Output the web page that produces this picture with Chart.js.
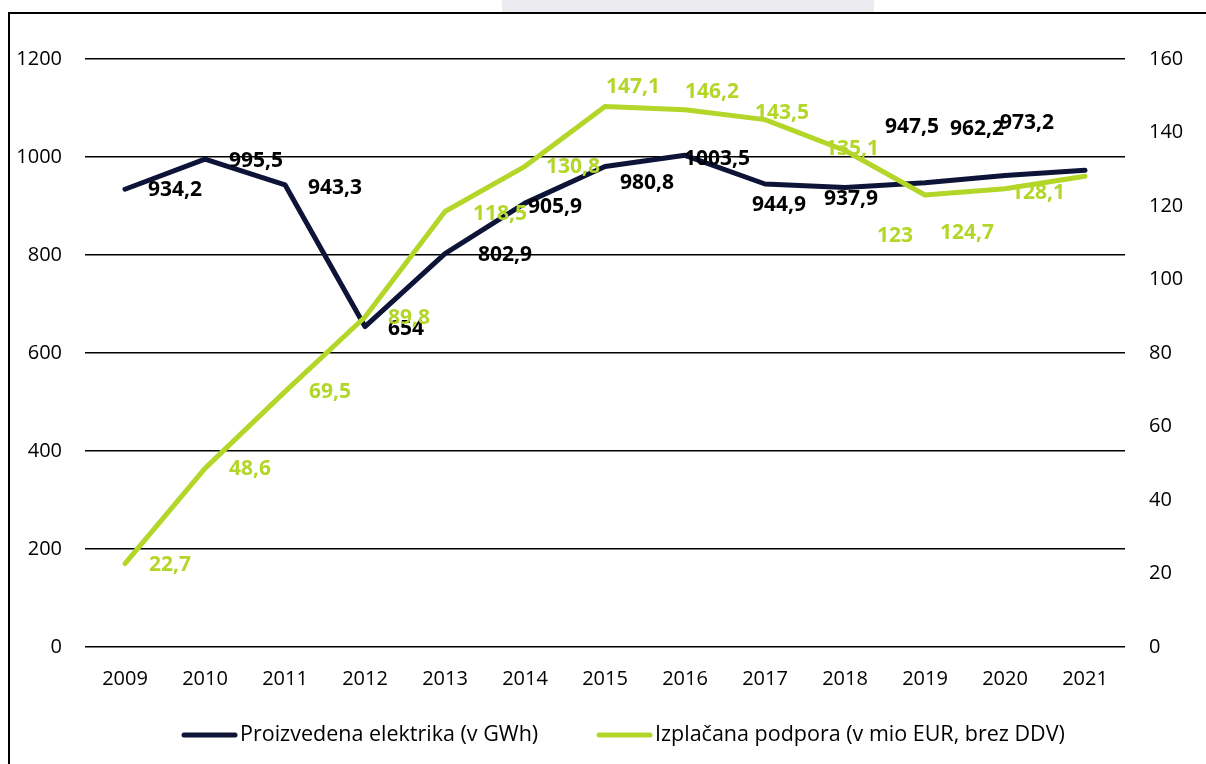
<!DOCTYPE html>
<html>
<head>
<meta charset="utf-8">
<script src="https://cdn.jsdelivr.net/npm/chart.js@4/dist/chart.umd.min.js"></script>
<style>
  html, body { margin: 0; padding: 0; background: #fff; }
  #wrap { position: relative; width: 1206px; height: 764px; overflow: hidden; }
  #tab { position: absolute; left: 502px; top: 0; width: 372px; height: 12px; background: #ebebf0; }
  #frame { position: absolute; left: 8px; top: 12px; width: 1220px; height: 800px;
           border-left: 2px solid #000; border-top: 2px solid #000; box-sizing: border-box; }
  canvas { position: absolute; left: 0; top: 0; }
</style>
</head>
<body>
<div id="wrap">
  <div id="tab"></div>
  <div id="frame"></div>
  <canvas id="c" width="1206" height="764"></canvas>
</div>
<script>
// ---- data ----
const years = ['2009','2010','2011','2012','2013','2014','2015','2016','2017','2018','2019','2020','2021'];
const electricity = [934.2, 995.5, 943.3, 654, 802.9, 905.9, 980.8, 1003.5, 944.9, 937.9, 947.5, 962.2, 973.2];
const support = [22.7, 48.6, 69.5, 89.8, 118.5, 130.8, 147.1, 146.2, 143.5, 135.1, 123, 124.7, 128.1];
const seriesNames = ['Proizvedena elektrika (v GWh)', 'Izplačana podpora (v mio EUR, brez DDV)'];
const leftTicks = [0, 200, 400, 600, 800, 1000, 1200];
const rightTicks = [0, 20, 40, 60, 80, 100, 120, 140, 160];

// ---- label placement (offsets from each point, px) ----
const elecLabelOffset = [[50,1],[51,2],[50,3],[41,2],[60,1],[30,4],[42,17],[32,4],[14,21],[6,12],[-13,-56],[-28,-47],[-58,-47]];
const suppLabelOffset = [[45,1],[45,1],[45,0],[44,1],[55,3],[48,1],[28,-19],[27,-18],[17,-7],[7,-1],[-30,41],[-38,44],[-47,17]];

const NAVY = '#0d1438';
const GREEN = '#b3d629';
const FONT = '"Open Sans", "DejaVu Sans", sans-serif';

const fmt = v => String(v).replace('.', ',');

const labelPlugin = {
  id: 'pointLabels',
  afterDatasetsDraw(chart) {
    const ctx = chart.ctx;
    ctx.save();
    ctx.font = 'bold 21px ' + FONT;
    ctx.textAlign = 'center';
    ctx.textBaseline = 'middle';
    const specs = [
      { idx: 1, values: electricity, off: elecLabelOffset, color: '#000' },
      { idx: 0, values: support, off: suppLabelOffset, color: GREEN }
    ];
    specs.forEach(s => {
      const meta = chart.getDatasetMeta(s.idx);
      ctx.fillStyle = s.color;
      meta.data.forEach((pt, i) => {
        ctx.fillText(fmt(s.values[i]), pt.x + s.off[i][0], pt.y + s.off[i][1]);
      });
    });
    ctx.restore();
  }
};

const legendPlugin = {
  id: 'customLegend',
  afterDraw(chart) {
    const ctx = chart.ctx;
    ctx.save();
    const y = 735;
    const items = [
      { x: 184, color: NAVY, text: seriesNames[0] },
      { x: 599, color: GREEN, text: seriesNames[1] }
    ];
    ctx.font = '21.5px ' + FONT;
    ctx.textBaseline = 'middle';
    ctx.textAlign = 'left';
    items.forEach(it => {
      ctx.strokeStyle = it.color;
      ctx.lineWidth = 5;
      ctx.lineCap = 'round';
      ctx.beginPath();
      ctx.moveTo(it.x, y);
      ctx.lineTo(it.x + 51, y);
      ctx.stroke();
      ctx.fillStyle = '#000';
      ctx.fillText(it.text, it.x + 56, y);
    });
    ctx.restore();
  }
};

const tickFont = { family: FONT, size: 20 };

new Chart(document.getElementById('c'), {
  type: 'line',
  data: {
    labels: years,
    datasets: [
      {
        label: seriesNames[1],
        data: support,
        yAxisID: 'y2',
        borderColor: GREEN,
        backgroundColor: GREEN,
        borderWidth: 5,
        pointRadius: 0,
        tension: 0,
        borderCapStyle: 'round',
        borderJoinStyle: 'round',
        order: 0
      },
      {
        label: seriesNames[0],
        data: electricity,
        yAxisID: 'y',
        borderColor: NAVY,
        backgroundColor: NAVY,
        borderWidth: 5,
        pointRadius: 0,
        tension: 0,
        borderCapStyle: 'round',
        borderJoinStyle: 'round',
        order: 1
      }
    ]
  },
  options: {
    responsive: false,
    animation: false,
    devicePixelRatio: 1,
    layout: { padding: { top: 59, bottom: 57, left: 0, right: 0 } },
    plugins: { legend: { display: false }, tooltip: { enabled: false } },
    scales: {
      x: {
        offset: true,
        grid: { display: false, drawTicks: false },
        border: { display: false },
        ticks: { color: '#000', font: tickFont, padding: 20, maxRotation: 0 },
        afterFit(s) { s.height = 60; }
      },
      y: {
        position: 'left',
        min: 0, max: 1200,
        afterBuildTicks(s) { s.ticks = leftTicks.map(v => ({ value: v })); },
        grid: { color: '#000', lineWidth: 1.5, drawTicks: false },
        border: { display: false },
        ticks: { color: '#000', font: tickFont, padding: 23, callback: v => String(v) },
        afterFit(s) { s.width = 85; }
      },
      y2: {
        position: 'right',
        min: 0, max: 160,
        afterBuildTicks(s) { s.ticks = rightTicks.map(v => ({ value: v })); },
        grid: { display: false, drawTicks: false },
        border: { display: false },
        ticks: { color: '#000', font: tickFont, padding: 24, callback: v => String(v) },
        afterFit(s) { s.width = 81; }
      }
    }
  },
  plugins: [labelPlugin, legendPlugin]
});
</script>
</body>
</html>
